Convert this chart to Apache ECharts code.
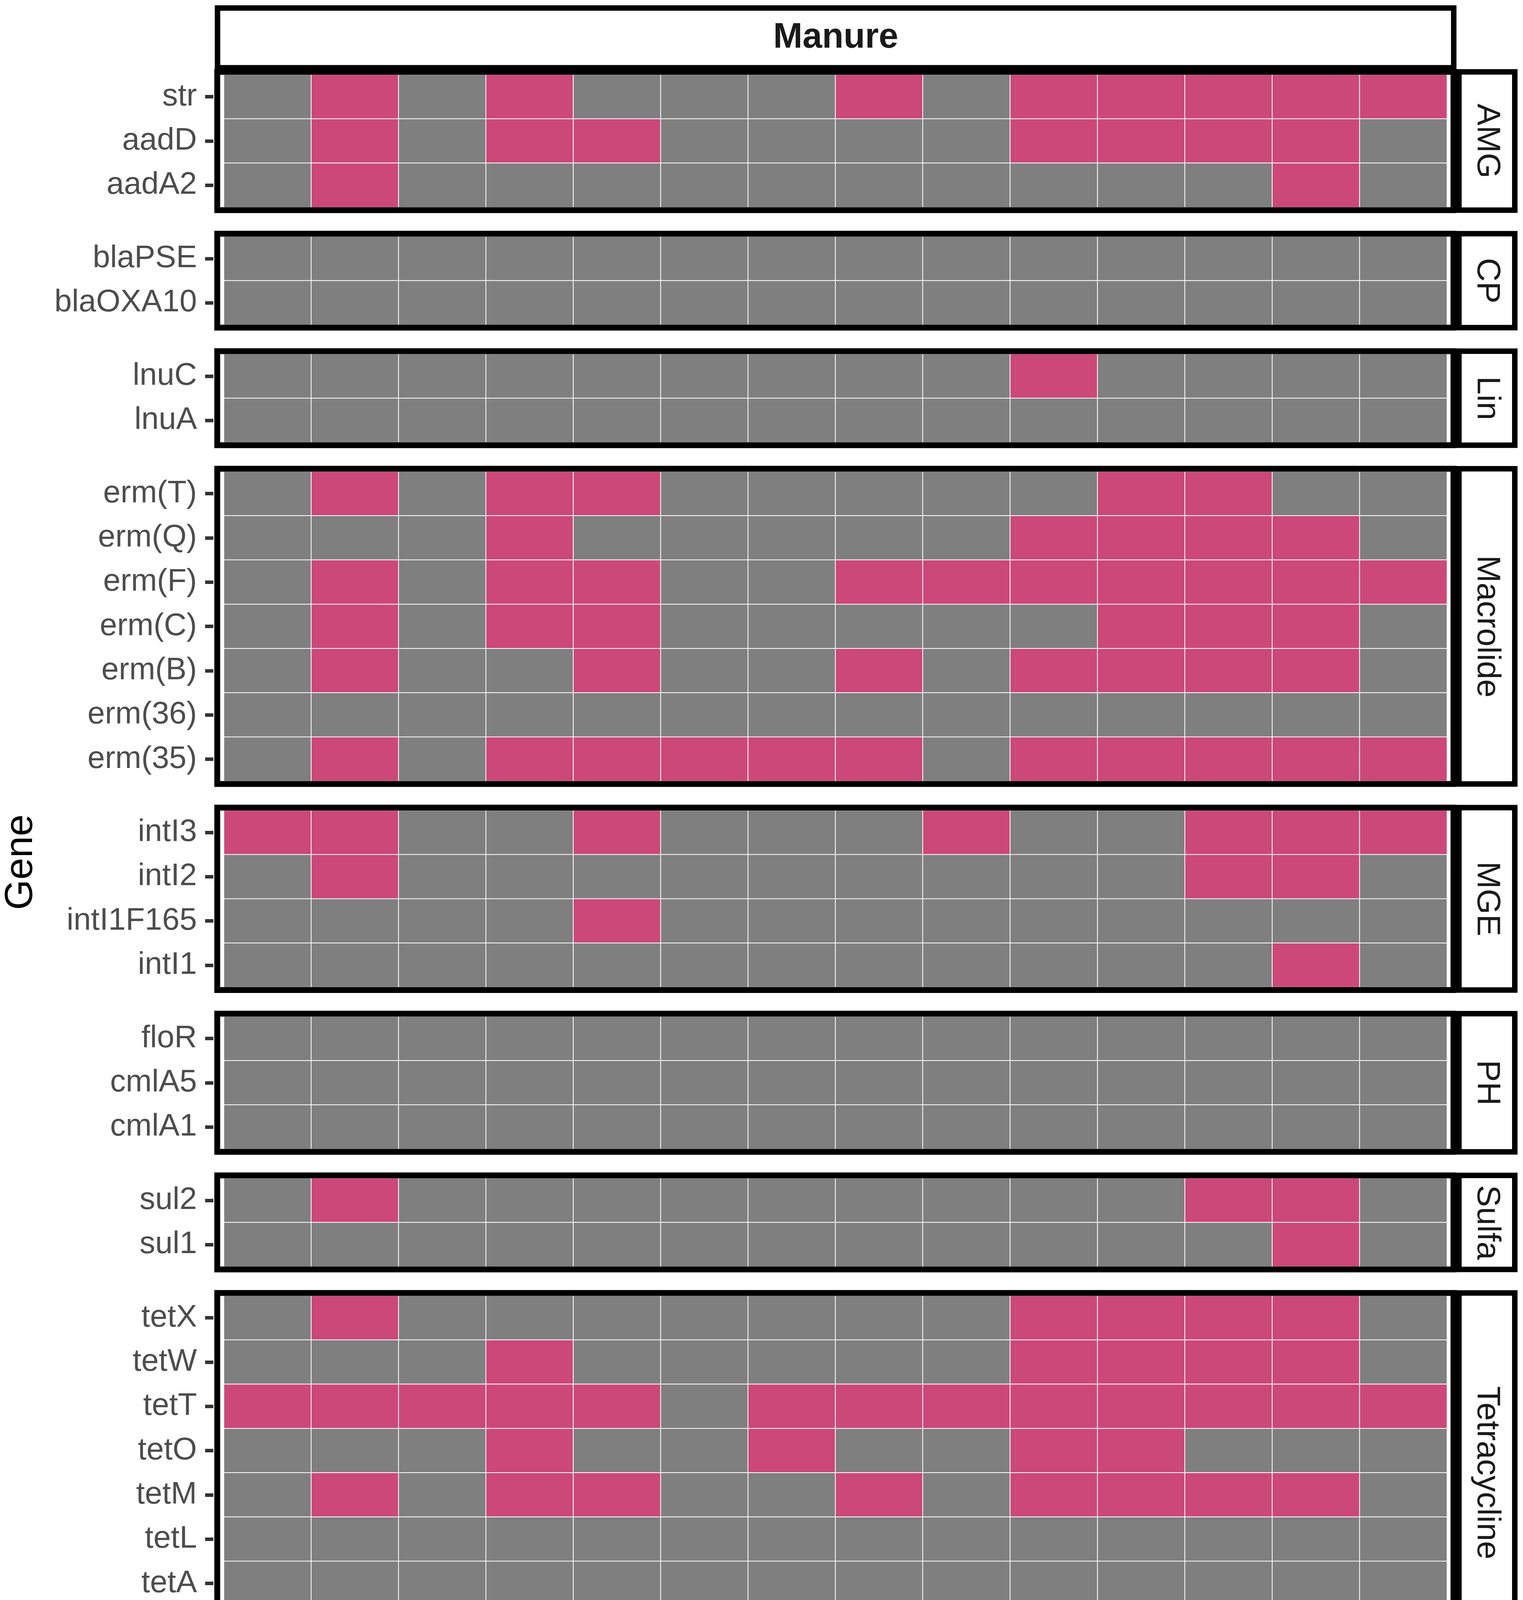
<!DOCTYPE html>
<html>
<head>
<meta charset="utf-8">
<title>Manure gene heatmap</title>
<script src="https://cdn.jsdelivr.net/npm/echarts@6/dist/echarts.min.js"></script>
<style>
  html, body { margin: 0; padding: 0; background: #fff; }
  #chart { width: 3898px; height: 4438px; }
</style>
</head>
<body>
<div id="chart"></div>
<script>
// samples along the x axis
const samples = ['11P', '13P', '14P', '18P', '19P', '1P', '2P', '38P', '42P', '43P', '48P', '4P', '50P', '8P'];

// gene groups (facet rows) and presence (1) / absence (0) per sample
const amgGenes = ['str', 'aadD', 'aadA2'];
const amgRows = [
    [0, 1, 0, 1, 0, 0, 0, 1, 0, 1, 1, 1, 1, 1],
    [0, 1, 0, 1, 1, 0, 0, 0, 0, 1, 1, 1, 1, 0],
    [0, 1, 0, 0, 0, 0, 0, 0, 0, 0, 0, 0, 1, 0]
];
const cpGenes = ['blaPSE', 'blaOXA10'];
const cpRows = [
    [0, 0, 0, 0, 0, 0, 0, 0, 0, 0, 0, 0, 0, 0],
    [0, 0, 0, 0, 0, 0, 0, 0, 0, 0, 0, 0, 0, 0]
];
const linGenes = ['lnuC', 'lnuA'];
const linRows = [
    [0, 0, 0, 0, 0, 0, 0, 0, 0, 1, 0, 0, 0, 0],
    [0, 0, 0, 0, 0, 0, 0, 0, 0, 0, 0, 0, 0, 0]
];
const macGenes = ['erm(T)', 'erm(Q)', 'erm(F)', 'erm(C)', 'erm(B)', 'erm(36)', 'erm(35)'];
const macRows = [
    [0, 1, 0, 1, 1, 0, 0, 0, 0, 0, 1, 1, 0, 0],
    [0, 0, 0, 1, 0, 0, 0, 0, 0, 1, 1, 1, 1, 0],
    [0, 1, 0, 1, 1, 0, 0, 1, 1, 1, 1, 1, 1, 1],
    [0, 1, 0, 1, 1, 0, 0, 0, 0, 0, 1, 1, 1, 0],
    [0, 1, 0, 0, 1, 0, 0, 1, 0, 1, 1, 1, 1, 0],
    [0, 0, 0, 0, 0, 0, 0, 0, 0, 0, 0, 0, 0, 0],
    [0, 1, 0, 1, 1, 1, 1, 1, 0, 1, 1, 1, 1, 1]
];
const mgeGenes = ['intI3', 'intI2', 'intI1F165', 'intI1'];
const mgeRows = [
    [1, 1, 0, 0, 1, 0, 0, 0, 1, 0, 0, 1, 1, 1],
    [0, 1, 0, 0, 0, 0, 0, 0, 0, 0, 0, 1, 1, 0],
    [0, 0, 0, 0, 1, 0, 0, 0, 0, 0, 0, 0, 0, 0],
    [0, 0, 0, 0, 0, 0, 0, 0, 0, 0, 0, 0, 1, 0]
];
const phGenes = ['floR', 'cmlA5', 'cmlA1'];
const phRows = [
    [0, 0, 0, 0, 0, 0, 0, 0, 0, 0, 0, 0, 0, 0],
    [0, 0, 0, 0, 0, 0, 0, 0, 0, 0, 0, 0, 0, 0],
    [0, 0, 0, 0, 0, 0, 0, 0, 0, 0, 0, 0, 0, 0]
];
const sulGenes = ['sul2', 'sul1'];
const sulRows = [
    [0, 1, 0, 0, 0, 0, 0, 0, 0, 0, 0, 1, 1, 0],
    [0, 0, 0, 0, 0, 0, 0, 0, 0, 0, 0, 0, 1, 0]
];
const tetGenes = ['tetX', 'tetW', 'tetT', 'tetO', 'tetM', 'tetL', 'tetA', 'tet(36)'];
const tetRows = [
    [0, 1, 0, 0, 0, 0, 0, 0, 0, 1, 1, 1, 1, 0],
    [0, 0, 0, 1, 0, 0, 0, 0, 0, 1, 1, 1, 1, 0],
    [1, 1, 1, 1, 1, 0, 1, 1, 1, 1, 1, 1, 1, 1],
    [0, 0, 0, 1, 0, 0, 1, 0, 0, 1, 1, 0, 0, 0],
    [0, 1, 0, 1, 1, 0, 0, 1, 0, 1, 1, 1, 1, 0],
    [0, 0, 0, 0, 0, 0, 0, 0, 0, 0, 0, 0, 0, 0],
    [0, 0, 0, 0, 0, 0, 0, 0, 0, 0, 0, 0, 0, 0],
    [1, 1, 1, 1, 1, 1, 1, 1, 1, 1, 1, 1, 1, 1]
];

const groupNames = ['AMG', 'CP', 'Lin', 'Macrolide', 'MGE', 'PH', 'Sulfa', 'Tetracycline'];
const groupGenes = [amgGenes, cpGenes, linGenes, macGenes, mgeGenes, phGenes, sulGenes, tetGenes];
const groupRows = [amgRows, cpRows, linRows, macRows, mgeRows, phRows, sulRows, tetRows];
const facetTitle = 'Manure';

// layout (pixels)
const panelLeft = 573;
const panelWidth = 3130.5;
const firstTop = 191;
const rowH = 113.3;
const gapH = 74.3;
const labelFont = 'Liberation Sans, Arial, Helvetica, sans-serif';

var chart = echarts.init(document.getElementById('chart'));

var grids = [], xAxes = [], yAxes = [], series = [], graphics = [];
var panelTop = firstTop;

groupNames.forEach((name, gi) => {
    const genes = groupGenes[gi];
    const rows = groupRows[gi];
    const h = genes.length * rowH;
    const last = gi === groupNames.length - 1;

    grids.push({ left: panelLeft, top: panelTop, width: panelWidth, height: h });

    xAxes.push({
        type: 'category',
        gridIndex: gi,
        data: samples,
        position: 'bottom',
        offset: 13,
        axisLine: { show: false },
        axisTick: {
            show: last, alignWithLabel: true, length: 24,
            lineStyle: { color: '#333333', width: 9 }
        },
        axisLabel: {
            show: last, rotate: 90, margin: 49, interval: 0,
            color: '#4D4D4D', fontSize: 80, fontFamily: labelFont
        },
        splitLine: { show: false }
    });

    yAxes.push({
        type: 'category',
        gridIndex: gi,
        data: genes,
        inverse: true,
        offset: 27,
        axisLine: { show: false },
        axisTick: {
            show: true, alignWithLabel: true, length: 21,
            lineStyle: { color: '#333333', width: 9 }
        },
        axisLabel: {
            interval: 0, margin: 42,
            color: '#4D4D4D', fontSize: 80, fontFamily: labelFont
        },
        splitLine: { show: false }
    });

    const data = [];
    rows.forEach((row, yi) => {
        row.forEach((v, xi) => data.push([xi, yi, v]));
    });

    series.push({
        name: name,
        type: 'heatmap',
        xAxisIndex: gi,
        yAxisIndex: gi,
        data: data,
        itemStyle: { borderColor: '#FFFFFF', borderWidth: 2 },
        emphasis: { disabled: true }
    });

    // panel border
    graphics.push({
        type: 'rect',
        z: 100,
        shape: { x: 556, y: panelTop - 7, width: 3164, height: h + 14 },
        style: { fill: 'none', stroke: '#000', lineWidth: 15 }
    });
    // right strip
    graphics.push({
        type: 'rect',
        z: 100,
        shape: { x: 3734, y: panelTop - 7, width: 143, height: h + 14 },
        style: { fill: '#fff', stroke: '#000', lineWidth: 14 }
    });
    graphics.push({
        type: 'text',
        z: 101,
        x: 3805,
        y: panelTop + h / 2,
        rotation: -Math.PI / 2,
        style: {
            text: name, fill: '#1A1A1A', font: '84px ' + labelFont,
            align: 'center', verticalAlign: 'middle'
        }
    });

    panelTop += h + gapH;
});

// top strip
graphics.push({
    type: 'rect',
    z: 100,
    shape: { x: 556.7, y: 20.5, width: 3164, height: 153 },
    style: { fill: '#fff', stroke: '#000', lineWidth: 14 }
});
graphics.push({
    type: 'text',
    z: 101,
    x: 2139,
    y: 97,
    style: {
        text: facetTitle, fill: '#1A1A1A', font: 'bold 90px ' + labelFont,
        align: 'center', verticalAlign: 'middle'
    }
});
// y axis title
graphics.push({
    type: 'text',
    z: 101,
    x: 54,
    y: (firstTop + panelTop - gapH) / 2,
    rotation: Math.PI / 2,
    style: {
        text: 'Gene', fill: '#000', font: '100px ' + labelFont,
        align: 'center', verticalAlign: 'middle'
    }
});

chart.setOption({
    animation: false,
    backgroundColor: '#fff',
    grid: grids,
    xAxis: xAxes,
    yAxis: yAxes,
    visualMap: {
        type: 'piecewise',
        show: false,
        dimension: 2,
        seriesIndex: series.map((s, i) => i),
        pieces: [
            { value: 0, color: '#7F7F7F' },
            { value: 1, color: '#CB4879' }
        ]
    },
    series: series,
    graphic: graphics
});

window.addEventListener('resize', function () {
    chart.resize();
});
</script>
</body>
</html>
